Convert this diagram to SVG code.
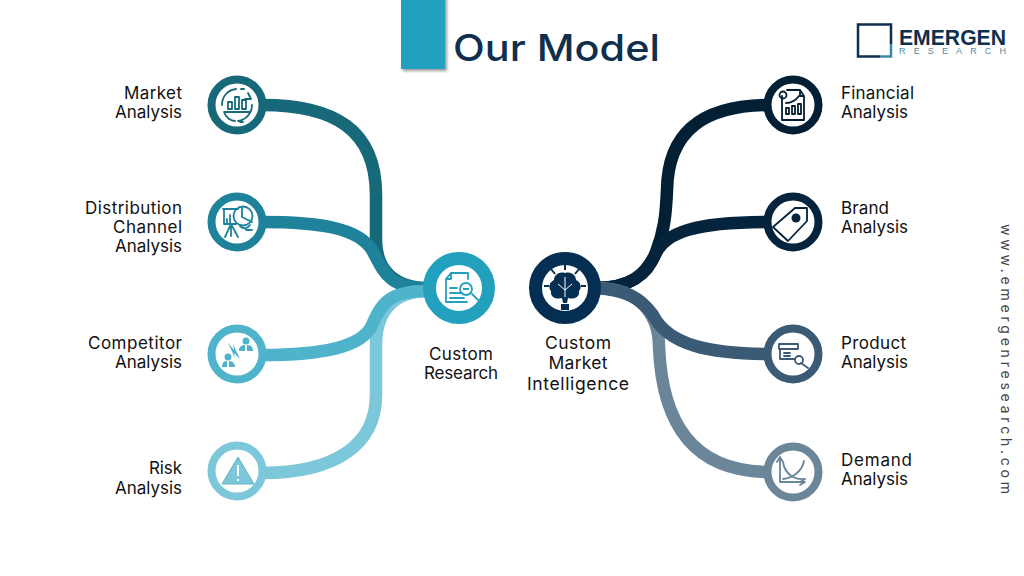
<svg xmlns="http://www.w3.org/2000/svg" width="1024" height="576" viewBox="0 0 1024 576">
<style>
text{font-family:"Inter","Open Sans","Liberation Sans",sans-serif;fill:#111;font-size:17px}
.e{text-anchor:end}.m{text-anchor:middle}
.c{fill:none;stroke-width:12.5}
.r{fill:#fff;stroke-width:8}
.i{fill:none;stroke-width:1.800;stroke-linejoin:round;stroke-linecap:round}
</style>
<defs><filter id="sh" x="-20%" y="-20%" width="150%" height="140%"><feDropShadow dx="2" dy="2" stdDeviation="1.500" flood-color="#000" flood-opacity=".4"/></filter></defs>
<rect width="1024" height="576" fill="#fff"/>
<g id="title">
<rect x="401" y="-4" width="44" height="73" fill="#22a0bf" filter="url(#sh)"/>
<text x="453" y="61" style="font-size:37px;font-weight:500;fill:#0e2f4d" textLength="207" lengthAdjust="spacingAndGlyphs">Our Model</text>
</g>
<g id="logo">
<path d="M891 44V24.500H858V56.500H880" fill="none" stroke="#0e2f4d" stroke-width="2.500"/>
<path d="M880 56.500H891V44" fill="none" stroke="#3d8aa6" stroke-width="2.500"/>
<text x="899" y="45" style="font-family:'Liberation Sans',sans-serif;font-size:22px;font-weight:700;fill:#0e2f4d" textLength="107" lengthAdjust="spacingAndGlyphs">EMERGEN</text>
<text x="899" y="54" style="font-family:'Liberation Sans',sans-serif;font-size:9px;fill:#4a8ba3" textLength="107">RESEARCH</text>
</g>
<text id="site" transform="translate(1001 224) rotate(90)" style="font-size:14px;fill:#444" textLength="270">www.emergenresearch.com</text>
<g id="connectors">
<path class="c" d="M262 105C335 105 376 130 376 195V240C376 270 395 288 428 288" stroke="#17697a"/>
<path class="c" d="M262 222C320 222 358 228 372 250C384 272 388 288 428 288" stroke="#1e829b"/>
<path class="c" d="M428 291C395 291 376 310 376 345V395C376 445 335 473 262 473" stroke="#7cc7d9"/>
<path class="c" d="M262 355C320 355 362 348 372 325C382 302 390 291 428 291" stroke="#4fb3cb"/>
<path class="c" d="M596 288C630 288 648 275 656 252C664 232 666 215 667 190C668 130 705 105 770 105" stroke="#031f33"/>
<path class="c" d="M596 288C630 288 645 275 655 255C665 232 695 222 770 222" stroke="#04233c"/>
<path class="c" d="M596 288C640 288 659 315 659 347C662 420 690 472 770 472" stroke="#6b8599"/>
<path class="c" d="M596 288C625 290 640 297 653 315C668 345 710 354 770 354" stroke="#3a5a75"/>
</g>
<g id="market"><circle class="r" cx="237" cy="105" r="25.500" stroke="#17697a"/>
<path class="i" stroke="#17697a" d="M228 109V102H232V109ZM235 109V97H239V109ZM242 109V100H246V109ZM225 112H249M222 105C222 96 228 90 236 89M252 105C252 113 246 120 238 121M224 112C226 118 231 121 235 121M248 93L251 99 245 99M241 89H244M240 122H243"/></g>
<g id="distribution"><circle class="r" cx="237" cy="222" r="25.500" stroke="#1e829b"/>
<path class="i" stroke="#1e829b" stroke-width="1.400" d="M223 209H238M224 209V224H236M227 224V219M230 224V215M231 224L225 237M231 224L238 237M231 224V236M242 208V217L252 222M240 226C244 230 248 228 250 225M246 230H252"/><circle class="i" stroke="#1e829b" stroke-width="1.400" cx="243" cy="216" r="9.500"/></g>
<g id="competitor"><circle class="r" cx="237" cy="354" r="25.500" stroke="#4fb3cb"/>
<g fill="#4fb3cb"><circle cx="246" cy="341" r="3.500"/><path d="M239 351C239 345 244 345 245 345V351ZM247 345C252 345 253 348 253 351H247Z"/><circle cx="228" cy="357" r="3.500"/><path d="M222 367C222 361 226 361 227 361V367ZM229 361C233 361 235 364 235 367H229Z"/><path d="M228 343L234 350 233 344 240 359 234 353 235 358Z"/></g></g>
<g id="risk"><circle class="r" cx="237" cy="471" r="25.500" stroke="#7cc7d9"/>
<path d="M238 457L222 484H254Z" fill="#7cc7d9" stroke="#5fb0c6"/><path d="M238 465V476M238 479V481" stroke="#fff" stroke-width="2"/></g>
<g id="custom-research"><circle cx="459" cy="288" r="29.500" fill="#fff" stroke="#24a0bf" stroke-width="13"/>
<path class="i" stroke="#24a0bf" stroke-width="2" d="M451 273H468V279M451 273L446 279V302H467M446 279H451V273M450 288H457M450 293H462M450 298H464M472 294L478 300"/><circle class="i" stroke="#24a0bf" stroke-width="2" cx="466" cy="289" r="6"/><path d="M463 289H469" stroke="#24a0bf" stroke-width="2"/></g>
<g id="custom-market-intelligence"><circle cx="565" cy="288" r="29.500" fill="#fff" stroke="#052f52" stroke-width="13"/>
<path d="M565 273C558 271 554 276 554 280C549 282 548 288 551 291C550 297 556 300 562 298L563 303H567L568 298C574 300 580 297 579 291C582 288 581 282 576 280C576 276 572 271 565 273Z" fill="#052f52"/><path d="M565 277V297M558 284L565 290 572 284" stroke="#fff" fill="none"/><path d="M565 265V270M551 269L555 274M579 269L575 274M544 286H549M581 286H586" stroke="#052f52" stroke-width="2"/><rect x="561" y="304" width="8" height="6" fill="#052f52"/></g>
<g id="financial"><circle class="r" cx="793" cy="105" r="25.500" stroke="#031f33"/>
<path class="i" stroke="#031f33" stroke-width="1.200" d="M787 90H800L804 96V120H782V96M800 90V96H804M786 114V108H789V114ZM792 114V106H795V114ZM798 114V104H801V114ZM786 103C792 103 796 100 799 96"/><circle class="i" stroke="#031f33" stroke-width="1.200" cx="783" cy="95" r="3.500"/></g>
<g id="brand"><circle class="r" cx="793" cy="222" r="25.500" stroke="#04233c"/>
<path class="i" stroke="#04233c" stroke-width="2" d="M773 227L795 208 807 208 807 221 788 241Z"/><circle cx="796" cy="218" r="4.500" fill="#04233c"/></g>
<g id="product"><circle class="r" cx="793" cy="354" r="25.500" stroke="#3a5a75"/>
<path class="i" stroke="#3a5a75" stroke-width="1.500" d="M779 344H798V349H779ZM780 349V359H795M784 353H790M784 356H790M801 363L808 368"/><circle class="i" stroke="#3a5a75" stroke-width="1.500" cx="799" cy="360" r="4"/></g>
<g id="demand"><circle class="r" cx="793" cy="472" r="25.500" stroke="#6b8599"/>
<path class="i" stroke="#6b8599" stroke-width="1.500" d="M780 458V482H804M777 462L780 457 783 462M800 479L805 482 800 485M783 462C785 475 795 480 805 479M804 461C802 472 792 478 783 479"/></g>
<g id="labels" lengthAdjust="spacing">
<text class="e" x="182" y="99" textLength="58">Market</text><text class="e" x="182" y="118" textLength="67">Analysis</text>
<text class="e" x="182" y="214" textLength="97">Distribution</text><text class="e" x="182" y="233" textLength="69">Channel</text><text class="e" x="182" y="252" textLength="67">Analysis</text>
<text class="e" x="182" y="349" textLength="94">Competitor</text><text class="e" x="182" y="368" textLength="67">Analysis</text>
<text class="e" x="182" y="474" textLength="33">Risk</text><text class="e" x="182" y="494" textLength="67">Analysis</text>
<text x="841" y="99" textLength="73">Financial</text><text x="841" y="118" textLength="67">Analysis</text>
<text x="841" y="214" textLength="48">Brand</text><text x="841" y="233" textLength="67">Analysis</text>
<text x="841" y="349" textLength="65">Product</text><text x="841" y="368" textLength="67">Analysis</text>
<text x="841" y="466" textLength="71">Demand</text><text x="841" y="485" textLength="67">Analysis</text>
<text class="m" x="461" y="360" textLength="64">Custom</text><text class="m" x="461" y="379" textLength="74">Research</text>
<text class="m" x="578" y="349" textLength="66" style="font-size:17.500px">Custom</text><text class="m" x="578" y="369" textLength="59" style="font-size:17.500px">Market</text><text class="m" x="578" y="390" textLength="102" style="font-size:17.500px">Intelligence</text>
</g>
</svg>
